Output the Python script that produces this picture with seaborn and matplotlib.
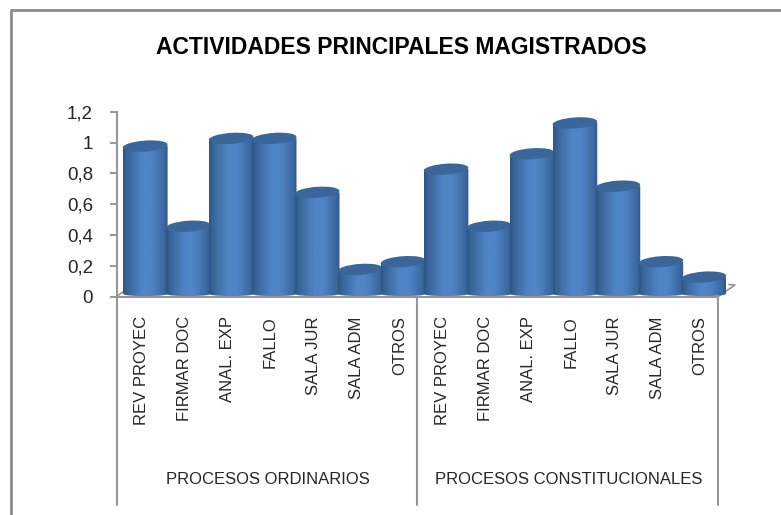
import numpy as np
import pandas as pd
import matplotlib
matplotlib.use('Agg')
import matplotlib.pyplot as plt
import seaborn as sns
from matplotlib.colors import LinearSegmentedColormap
from matplotlib.lines import Line2D
from matplotlib.patches import Ellipse, PathPatch
from matplotlib.path import Path
from matplotlib.transforms import Affine2D, ScaledTranslation

TITLE = 'ACTIVIDADES PRINCIPALES MAGISTRADOS'
ACTIVIDADES = ['REV PROYEC', 'FIRMAR DOC', 'ANAL. EXP', 'FALLO', 'SALA JUR', 'SALA ADM', 'OTROS']
GRUPOS = ['PROCESOS ORDINARIOS', 'PROCESOS CONSTITUCIONALES']
ORDINARIOS = [0.95, 0.43, 1.0, 1.0, 0.65, 0.15, 0.2]
CONSTITUCIONALES = [0.8, 0.43, 0.9, 1.1, 0.69, 0.2, 0.1]
Y_TICKS = [0, 0.2, 0.4, 0.6, 0.8, 1, 1.2]
Y_LABELS = ['0', '0,2', '0,4', '0,6', '0,8', '1', '1,2']

W, H = 781, 515
GRAY = '#969696'
TEXT = '#262626'
TOP_COLOR = '#3a6699'
SHIFT_X = 0.17    # fake 3D offset of the cylinders, in categories
SHIFT_Y = 0.027   # same, in value units


def fx(px):
    return px / W


def fy(px):
    return 1 - px / H


def draw_cylinders(ax, cmap):
    '''Turns the seaborn bars into shaded cylinders'''
    px_y = ax.get_ylim()[1] / (ax.get_window_extent().height)
    for i, bar in enumerate(ax.patches):
        x0 = bar.get_x() + SHIFT_X
        x1 = x0 + bar.get_width()
        top = bar.get_height() + SHIFT_Y
        bar.set_visible(False)

        # body with a rounded bottom edge
        edge = SHIFT_Y
        low = edge - 3.5 * px_y
        t = np.linspace(0, np.pi, 40)
        xs = (x0 + x1) / 2 + np.cos(t) * (x1 - x0) / 2
        ys = edge - np.sin(t) ** 0.5 * (edge - low)
        verts = [(x1, top)] + list(zip(xs, ys)) + [(x0, top), (x1, top)]
        body = PathPatch(Path(verts), facecolor='none', edgecolor='none', transform=ax.transData)
        ax.add_patch(body)
        img = ax.imshow(np.linspace(0, 1, 64).reshape(1, -1), cmap=cmap, aspect='auto',
                        extent=(x0, x1, 0, top), zorder=3 + i * 0.01, interpolation='bilinear')
        img.set_clip_box(ax.figure.bbox)  # last cylinder sticks out of the axes
        img.set_clip_path(body)

        # top cap, size given in pixels
        width_px = ax.get_window_extent().width / (ax.get_xlim()[1] - ax.get_xlim()[0]) * (x1 - x0)
        cap = Ellipse((0, 0), width_px, 11, angle=4, facecolor=TOP_COLOR, edgecolor='none',
                      transform=ScaledTranslation((x0 + x1) / 2, top, ax.transData),
                      zorder=3 + i * 0.01 + 0.001, clip_on=False)
        ax.add_patch(cap)


def generate_plot(df):
    sns.set_theme(style='white')
    plt.rcParams['font.family'] = ['Liberation Sans', 'DejaVu Sans']

    fig = plt.figure(figsize=(W / 100, H / 100), dpi=100, facecolor='white')
    ax = fig.add_axes([fx(116.5), fy(296.7), fx(718) - fx(116.5), fy(111.7) - fy(296.7)])

    sns.barplot(data=df, x='pos', y='valor', width=1.04, color='#4a7ebb', ax=ax)

    ax.set_xlim(-0.5, 13.5)
    ax.set_ylim(0, 1.2)

    cmap = LinearSegmentedColormap.from_list(
        'cyl', [(0, '#2f5688'), (0.1, '#3a6699'), (0.42, '#4f85c6'), (0.62, '#4f85c6'),
                (0.9, '#3d6ba3'), (1, '#305a8e')])
    draw_cylinders(ax, cmap)
    ax.set_xlim(-0.5, 13.5)
    ax.set_ylim(0, 1.2)

    ax.set_xlabel('')
    ax.set_ylabel('')
    ax.set_xticks(range(len(df)))
    ax.set_xticklabels(df['actividad'], rotation=90, fontsize=12, color=TEXT)
    ax.tick_params(axis='x', length=0, pad=14)
    for label in ax.get_xticklabels():
        label.set_transform(label.get_transform() + Affine2D().translate(3.5, 0))
    ax.set_yticks(Y_TICKS)
    ax.set_yticklabels(Y_LABELS, fontsize=13.5, color=TEXT)
    ax.tick_params(axis='y', length=5, width=1.4, color=GRAY, left=True, pad=12)

    sns.despine(ax=ax)
    for side in ['left', 'bottom']:
        ax.spines[side].set_color(GRAY)
        ax.spines[side].set_linewidth(1.5)

    # separators of the two level category axis
    trans = ax.get_xaxis_transform()
    for x in [-0.5, 6.5, 13.5]:
        ax.plot([x, x], [0, -1.125], transform=trans, color=GRAY, lw=1.5, clip_on=False, zorder=2)
    for x, grupo in zip([3, 10], GRUPOS):
        ax.text(x + 0.03, -0.99, grupo, transform=trans, ha='center', va='center',
                fontsize=12, color=TEXT)

    # floor edges
    ax.plot([1, 1.028, 1.018], [0, 0.063, 0.066], transform=ax.transAxes, color=GRAY, lw=1.2,
            clip_on=False, zorder=2)
    ax.plot([0, 0.012], [0, 0.03], transform=ax.transAxes, color=GRAY, lw=1.2, clip_on=False, zorder=2)

    # chart frame: only top and left are inside the picture
    fig.add_artist(Line2D([fx(11), fx(11), 1], [0, fy(10), fy(10)], color='#8c8c8c', lw=2))

    fig.text(fx(401.5), fy(47), TITLE, ha='center', va='center', fontsize=16.5,
             fontweight='bold', color='black')

    fig.savefig('out.png', dpi=100)


def main():
    df = pd.DataFrame({
        'pos': range(len(ACTIVIDADES) * 2),
        'actividad': ACTIVIDADES + ACTIVIDADES,
        'valor': ORDINARIOS + CONSTITUCIONALES,
    })
    generate_plot(df)


if __name__ == '__main__':
    main()
